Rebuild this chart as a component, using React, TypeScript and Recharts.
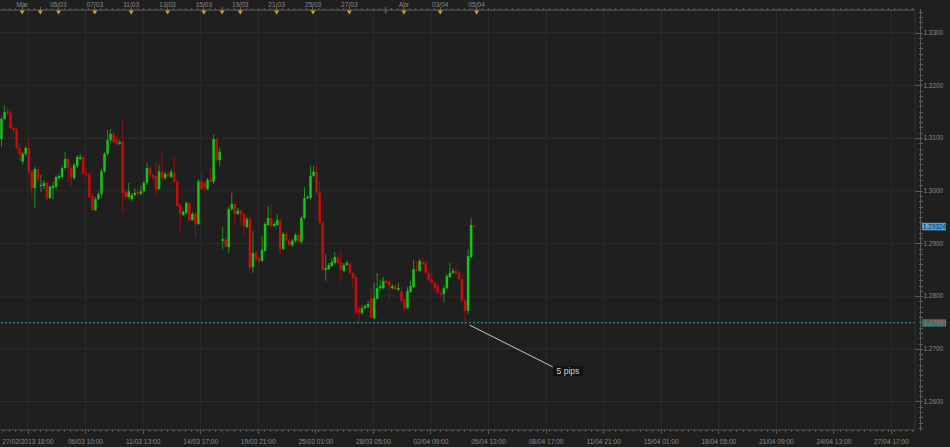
import React from 'react';
import { ComposedChart, Bar, XAxis, YAxis, CartesianGrid, ReferenceLine, ReferenceDot } from 'recharts';

// 4H candles, EUR/USD, 27/02/2013 -> 05/04/2013
const opens = [
  1.3098, 1.3136, 1.3151, 1.3148, 1.3119, 1.3117, 1.3081, 1.3055, 1.3070, 1.3081,
  1.3036, 1.3005, 1.3041, 1.3009, 1.3009, 1.3015, 1.2986, 1.3005, 1.3007, 1.3024,
  1.3026, 1.3043, 1.3060, 1.3043, 1.3024, 1.3047, 1.3060, 1.3064, 1.3032, 1.3032,
  1.2990, 1.2963, 1.2984, 1.2994, 1.3037, 1.3070, 1.3096, 1.3108, 1.3098, 1.3089,
  1.3094, 1.2998, 1.2988, 1.2984, 1.2992, 1.2998, 1.2994, 1.2999, 1.3015, 1.3043,
  1.3030, 1.3028, 1.3003, 1.3037, 1.3024, 1.3032, 1.3026, 1.3034, 1.3017, 1.2973,
  1.2954, 1.2958, 1.2977, 1.2944, 1.2956, 1.2937, 1.3018, 1.3015, 1.3003, 1.3022,
  1.3017, 1.3098, 1.3058, 1.2905, 1.2908, 1.2893, 1.2965, 1.2975, 1.2956, 1.2962,
  1.2956, 1.2931, 1.2946, 1.2855, 1.2882, 1.2872, 1.2867, 1.2886, 1.2935, 1.2948,
  1.2933, 1.2935, 1.2944, 1.2889, 1.2918, 1.2905, 1.2897, 1.2905, 1.2916, 1.2903,
  1.2948, 1.2986, 1.2986, 1.3028, 1.3036, 1.2996, 1.2939, 1.2850, 1.2851, 1.2857,
  1.2863, 1.2874, 1.2865, 1.2848, 1.2859, 1.2861, 1.2844, 1.2836, 1.2777, 1.2768,
  1.2777, 1.2779, 1.2796, 1.2758, 1.2795, 1.2815, 1.2815, 1.2829, 1.2827, 1.2815,
  1.2819, 1.2812, 1.2808, 1.2793, 1.2777, 1.2808, 1.2817, 1.2851, 1.2848, 1.2865,
  1.2863, 1.2844, 1.2832, 1.2825, 1.2819, 1.2806, 1.2804, 1.2815, 1.2836, 1.2844,
  1.2848, 1.2844, 1.2832, 1.2791, 1.2772, 1.2874, 1.2933,
];
const highs = [
  1.3140, 1.3161, 1.3157, 1.3151, 1.3123, 1.3121, 1.3091, 1.3074, 1.3085, 1.3100,
  1.3039, 1.3045, 1.3043, 1.3030, 1.3020, 1.3017, 1.3011, 1.3017, 1.3030, 1.3032,
  1.3047, 1.3074, 1.3064, 1.3049, 1.3053, 1.3068, 1.3070, 1.3068, 1.3043, 1.3034,
  1.2994, 1.2988, 1.2999, 1.3041, 1.3074, 1.3115, 1.3117, 1.3111, 1.3102, 1.3096,
  1.3134, 1.3003, 1.3015, 1.2996, 1.3005, 1.3001, 1.3009, 1.3018, 1.3053, 1.3047,
  1.3034, 1.3056, 1.3049, 1.3074, 1.3036, 1.3037, 1.3041, 1.3064, 1.3020, 1.2977,
  1.2963, 1.2980, 1.2979, 1.2960, 1.2960, 1.3022, 1.3032, 1.3018, 1.3024, 1.3043,
  1.3106, 1.3100, 1.3081, 1.2931, 1.2912, 1.2969, 1.2996, 1.2980, 1.2967, 1.2965,
  1.2960, 1.2950, 1.2950, 1.2924, 1.2886, 1.2876, 1.2914, 1.2941, 1.2971, 1.2975,
  1.2941, 1.2956, 1.2948, 1.2922, 1.2924, 1.2908, 1.2908, 1.2920, 1.2924, 1.2952,
  1.3007, 1.2992, 1.3047, 1.3047, 1.3047, 1.3018, 1.2943, 1.2880, 1.2863, 1.2872,
  1.2884, 1.2878, 1.2889, 1.2863, 1.2867, 1.2865, 1.2848, 1.2840, 1.2781, 1.2783,
  1.2785, 1.2791, 1.2815, 1.2825, 1.2844, 1.2831, 1.2836, 1.2832, 1.2831, 1.2823,
  1.2823, 1.2825, 1.2817, 1.2796, 1.2817, 1.2829, 1.2869, 1.2865, 1.2870, 1.2874,
  1.2867, 1.2848, 1.2846, 1.2829, 1.2823, 1.2810, 1.2819, 1.2842, 1.2863, 1.2853,
  1.2855, 1.2851, 1.2842, 1.2795, 1.2889, 1.2948, 1.2935,
];
const lows = [
  1.3083, 1.3134, 1.3142, 1.3115, 1.3106, 1.3077, 1.3055, 1.3049, 1.3066, 1.3032,
  1.2986, 1.2967, 1.3017, 1.2998, 1.3003, 1.2982, 1.2984, 1.2984, 1.3003, 1.3020,
  1.3022, 1.3039, 1.3015, 1.3009, 1.3020, 1.3043, 1.3058, 1.3030, 1.3028, 1.2986,
  1.2962, 1.2962, 1.2982, 1.2986, 1.3034, 1.3066, 1.3092, 1.3091, 1.3085, 1.3087,
  1.2956, 1.2982, 1.2984, 1.2980, 1.2990, 1.2990, 1.2992, 1.2996, 1.3011, 1.3026,
  1.3020, 1.2990, 1.3001, 1.3020, 1.3020, 1.3026, 1.3024, 1.3015, 1.2969, 1.2924,
  1.2952, 1.2954, 1.2941, 1.2943, 1.2910, 1.2935, 1.3001, 1.3001, 1.3001, 1.3015,
  1.3013, 1.3055, 1.3047, 1.2888, 1.2891, 1.2882, 1.2962, 1.2937, 1.2954, 1.2935,
  1.2916, 1.2929, 1.2851, 1.2844, 1.2865, 1.2863, 1.2865, 1.2884, 1.2933, 1.2931,
  1.2931, 1.2933, 1.2880, 1.2888, 1.2903, 1.2895, 1.2893, 1.2901, 1.2901, 1.2899,
  1.2946, 1.2984, 1.2982, 1.3026, 1.2994, 1.2937, 1.2848, 1.2829, 1.2850, 1.2855,
  1.2861, 1.2861, 1.2827, 1.2846, 1.2857, 1.2842, 1.2817, 1.2764, 1.2751, 1.2764,
  1.2776, 1.2777, 1.2758, 1.2757, 1.2793, 1.2810, 1.2813, 1.2823, 1.2793, 1.2813,
  1.2812, 1.2810, 1.2789, 1.2772, 1.2776, 1.2806, 1.2815, 1.2846, 1.2846, 1.2859,
  1.2842, 1.2827, 1.2823, 1.2808, 1.2804, 1.2796, 1.2789, 1.2813, 1.2834, 1.2842,
  1.2840, 1.2831, 1.2789, 1.2744, 1.2766, 1.2872, 1.2929,
];
const closes = [
  1.3136, 1.3149, 1.3146, 1.3119, 1.3115, 1.3081, 1.3068, 1.3070, 1.3081, 1.3036,
  1.3005, 1.3041, 1.3020, 1.3011, 1.3015, 1.2986, 1.3007, 1.3009, 1.3026, 1.3028,
  1.3043, 1.3060, 1.3043, 1.3024, 1.3049, 1.3064, 1.3064, 1.3032, 1.3030, 1.2988,
  1.2963, 1.2984, 1.2994, 1.3037, 1.3070, 1.3096, 1.3108, 1.3092, 1.3089, 1.3092,
  1.2996, 1.2988, 1.2999, 1.2992, 1.2996, 1.2994, 1.2999, 1.3015, 1.3043, 1.3030,
  1.3024, 1.3003, 1.3037, 1.3024, 1.3032, 1.3028, 1.3036, 1.3017, 1.2971, 1.2956,
  1.2960, 1.2977, 1.2944, 1.2956, 1.2937, 1.3018, 1.3003, 1.3005, 1.3020, 1.3017,
  1.3098, 1.3058, 1.3074, 1.2908, 1.2895, 1.2965, 1.2975, 1.2956, 1.2962, 1.2954,
  1.2933, 1.2946, 1.2853, 1.2882, 1.2869, 1.2867, 1.2888, 1.2937, 1.2948, 1.2933,
  1.2937, 1.2944, 1.2889, 1.2918, 1.2905, 1.2897, 1.2905, 1.2916, 1.2903, 1.2948,
  1.2986, 1.2988, 1.3028, 1.3036, 1.2996, 1.2939, 1.2850, 1.2853, 1.2859, 1.2865,
  1.2874, 1.2863, 1.2850, 1.2859, 1.2863, 1.2844, 1.2834, 1.2768, 1.2768, 1.2777,
  1.2781, 1.2785, 1.2760, 1.2796, 1.2815, 1.2819, 1.2829, 1.2825, 1.2819, 1.2819,
  1.2813, 1.2815, 1.2791, 1.2777, 1.2810, 1.2819, 1.2851, 1.2848, 1.2867, 1.2861,
  1.2844, 1.2831, 1.2825, 1.2815, 1.2806, 1.2804, 1.2815, 1.2838, 1.2844, 1.2848,
  1.2842, 1.2832, 1.2791, 1.2772, 1.2876, 1.2935, 1.2932,
];

// axis labels (positions are candle-slot indexes)
const bottomTickPos = [8.75, 27.75, 46.75, 65.75, 84.75, 103.75, 122.75, 141.75, 160.75, 179.75, 198.75, 217.75, 236.75, 255.75, 274.75, 293.75];
const bottomTickLabels = ['27/02/2013 18:00', '06/03 10:00', '11/03 13:00', '14/03 17:00', '19/03 21:00', '25/03 01:00', '28/03 05:00', '02/04 09:00', '05/04 13:00', '08/04 17:00', '11/04 21:00', '15/04 01:00', '18/04 05:00', '21/04 09:00', '24/04 13:00', '27/04 17:00'];
const topTickPos = [6.8, 12.8, 18.8, 30.8, 42.8, 54.8, 66.8, 72.8, 78.8, 90.8, 102.8, 114.8, 126.8, 132.8, 144.8, 156.8];
const topTickLabels = ['Mar', '', '05/03', '07/03', '11/03', '13/03', '15/03', '', '19/03', '21/03', '25/03', '27/03', '', 'Abr', '03/04', '05/04'];
const holidayTicks = [126.8];
const priceLabels = [1.26, 1.27, 1.28, 1.29, 1.30, 1.31, 1.32, 1.33];

const lastPrice = 1.29324;
const linePrice = 1.27494;
const pipsFrom = { x: 154.5, y: 1.2745 };
const pipsTo = { x: 182, y: 1.26655 };

const data = opens.map((o, i) => ({ i, o, h: highs[i], l: lows[i], c: closes[i], range: [lows[i], highs[i]] }));

const minorPrices: number[] = [];
for (let k = 1255; k <= 1334; k++) minorPrices.push(k / 1000);
const minorSlots: number[] = [];
for (let s = 0.75; s < 302; s += 2) minorSlots.push(s);
const bottomTicks = [...minorSlots.filter((s) => !bottomTickPos.some((p) => Math.abs(p - s) < 0.9)), ...bottomTickPos];
const topTicks = [...minorSlots.filter((s) => !topTickPos.some((p) => Math.abs(p - s) < 0.9)), ...topTickPos];

const FONT = '"Liberation Sans", Arial, sans-serif';
const TXT = '#8a8a8a';

const Candle = (props: any) => {
  const { x, y, width, height, payload } = props;
  if (!payload || y == null) return null;
  const top = Math.min(y, y + height);
  const h = Math.abs(height);
  const { o, c, h: hi, l: lo } = payload;
  const k = h / (hi - lo);
  const cx = x + width / 2;
  const bTop = top + (hi - Math.max(o, c)) * k;
  const bBot = top + (hi - Math.min(o, c)) * k;
  const up = c >= o;
  return (
    <g>
      <rect x={cx - 0.5} y={top} width={1} height={Math.max(h, 1)} fill={up ? '#1d931d' : '#931313'} />
      <rect x={cx - 1.25} y={bTop} width={2.5} height={Math.max(bBot - bTop, 1.2)} fill={up ? '#16c416' : '#c80b0b'} />
    </g>
  );
};

const PriceTick = (props: any) => {
  const { x, y, payload } = props;
  const v = payload.value;
  const major = Math.round(v * 1000) % 10 === 0;
  return (
    <g shapeRendering="crispEdges">
      <line x1={x + 5.5} x2={x + 5.5} y1={y - 2.7} y2={y + 2.7} stroke="#5a5a5a" />
      <line x1={major ? x : x + 4} x2={x + 8} y1={y + 0.5} y2={y + 0.5} stroke="#5a5a5a" />
      {major && (
        <text x={x + 8.5} y={y + 2.3} fill={TXT} fontSize={6.4} fontFamily={FONT}>{v.toFixed(4)}</text>
      )}
    </g>
  );
};

const BottomTick = (props: any) => {
  const { x, y, payload } = props;
  const idx = bottomTickPos.indexOf(payload.value);
  const major = idx >= 0;
  return (
    <g>
      <line x1={x} x2={x} y1={y} y2={y + (major ? 4 : 2)} stroke="#5a5a5a" shapeRendering="crispEdges" />
      {major && (
        <text x={x} y={y + 14.2} textAnchor="middle" fill={TXT} fontSize={6.6} fontFamily={FONT}>{bottomTickLabels[idx]}</text>
      )}
    </g>
  );
};

const TopTick = (props: any) => {
  const { x, y, payload } = props;
  const idx = topTickPos.indexOf(payload.value);
  if (idx < 0) {
    return <line x1={x} x2={x} y1={y} y2={y - 2} stroke="#5a5a5a" shapeRendering="crispEdges" />;
  }
  const holiday = holidayTicks.includes(payload.value);
  return (
    <g>
      <line x1={x} x2={x} y1={y} y2={y - 3} stroke="#6a6a6a" shapeRendering="crispEdges" />
      <path d={`M${x - 2.5},${y + 0.5} L${x + 2.5},${y + 0.5} L${x},${y + 4.5} Z`} fill={holiday ? '#4a4a4a' : '#d6a21c'} />
      {topTickLabels[idx] && (
        <text x={x} y={y - 3} textAnchor="middle" fill={TXT} fontSize={6.6} fontFamily={FONT}>{topTickLabels[idx]}</text>
      )}
    </g>
  );
};

const priceBox = (value: number, bg: string, fg: string) => (props: any) => {
  const vb = props.viewBox || {};
  const x = (vb.x ?? 0) + (vb.width ?? 0) + 7;
  const y = vb.y ?? 0;
  return (
    <g>
      <rect x={x} y={y - 3.5} width={24} height={7.5} fill={bg} />
      <text x={x + 1} y={y + 2.4} fill={fg} fontSize={6.4} fontFamily={FONT}>{value.toFixed(5)}</text>
    </g>
  );
};

const PipsLabel = (props: any) => {
  const { cx, cy } = props;
  return (
    <g>
      <rect x={cx} y={cy - 1} width={30} height={10} fill="#121212" />
      <text x={cx + 15} y={cy + 6.8} textAnchor="middle" fill="#d4d4d4" fontSize={8.5} fontFamily={FONT}>5 pips</text>
    </g>
  );
};

export default function App() {
  return (
    <div style={{ width: 950, height: 447, background: '#1f1f1f', position: 'absolute', left: 0, top: 0 }}>
      <style>{'body{margin:0;background:#1f1f1f}'}</style>
      <ComposedChart width={950} height={447} data={data} margin={{ top: 0, right: 0, bottom: 0, left: 0 }}>
        <CartesianGrid
          xAxisId="b"
          yAxisId="p"
          stroke="#2c2c2c"
          horizontalValues={priceLabels}
          verticalValues={bottomTickPos}
        />
        <XAxis
          xAxisId="b"
          dataKey="i"
          type="number"
          domain={[-0.5, 301.5]}
          allowDataOverflow
          ticks={bottomTicks}
          interval={0}
          height={17}
          tickSize={0}
          tickMargin={0}
          stroke="#555"
          tick={<BottomTick />}
        />
        <XAxis
          xAxisId="t"
          dataKey="i"
          type="number"
          orientation="top"
          domain={[-0.5, 301.5]}
          allowDataOverflow
          ticks={topTicks}
          interval={0}
          height={10}
          tickSize={0}
          tickMargin={0}
          stroke="#666"
          tick={<TopTick />}
        />
        <YAxis
          yAxisId="p"
          orientation="right"
          type="number"
          domain={[1.25459, 1.33429]}
          allowDataOverflow
          ticks={minorPrices}
          interval={0}
          width={35}
          tickSize={0}
          tickMargin={0}
          stroke="#333"
          tick={<PriceTick />}
        />
        <ReferenceLine
          xAxisId="b"
          yAxisId="p"
          y={linePrice}
          stroke="#1fb2b2"
          strokeDasharray="2 2"
          label={{ content: priceBox(linePrice, '#237f78', '#e23a3a') }}
        />
        <ReferenceLine
          xAxisId="b"
          yAxisId="p"
          y={lastPrice}
          stroke="none"
          label={{ content: priceBox(lastPrice, '#4da6f2', '#10243c') }}
        />
        <Bar xAxisId="b" yAxisId="p" dataKey="range" barSize={3} shape={<Candle />} isAnimationActive={false} />
        <ReferenceLine
          xAxisId="b"
          yAxisId="p"
          segment={[pipsFrom, pipsTo]}
          stroke="#c8c8c8"
          strokeWidth={1}
        />
        <ReferenceDot xAxisId="b" yAxisId="p" x={pipsTo.x} y={pipsTo.y} shape={<PipsLabel />} />
      </ComposedChart>
    </div>
  );
}
